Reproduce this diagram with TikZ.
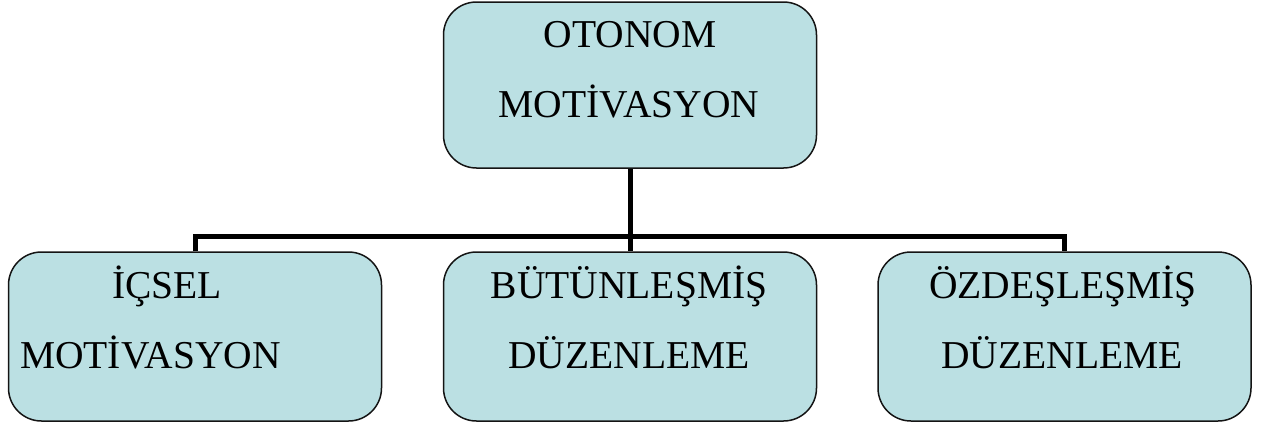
\documentclass[tikz,border=0pt]{standalone}
\usepackage{fontspec}
\setmainfont{Liberation Serif}
\definecolor{boxfill}{RGB}{187,224,227}
\definecolor{boxline}{RGB}{20,20,20}
\begin{document}
\begin{tikzpicture}[x=1pt,y=-1pt,
  box/.style={draw=boxline, line width=1.5pt, fill=boxfill, rounded corners=33pt,
    rectangle, inner sep=0pt, minimum width=373pt},
  label/.style={anchor=base, inner sep=0pt, font=\fontsize{39.5}{39.5}\selectfont},
  bus/.style={line width=5pt, line join=miter}]
\useasboundingbox (0,0) rectangle (1273,426);

% boxes
\node[box, minimum height=166pt] (top) at (630,85) {};
\node[box, minimum height=169pt] (left) at (195,336.5) {};
\node[box, minimum height=169pt] (mid)  at (630,336.5) {};
\node[box, minimum height=169pt] (right) at (1064.5,336.5) {};

% connectors
\coordinate (hub) at (630,236);
\draw[bus] (top.south) -- (mid.north);
\draw[bus] (left.north) -- (left.north |- hub) -- (right.north |- hub) -- (right.north);

% texts
\node[label] (t1) at (630,47) {OTONOM};
\node[label] (t2) at (629,117) {MOTİVASYON};
\node[label] (l1) at (167,298) {İÇSEL};
\node[label, anchor=base west] (l2) at (20,368) {MOTİVASYON};
\node[label] (m1) at (629,298) {BÜTÜNLEŞMİŞ};
\node[label] (m2) at (629,368) {DÜZENLEME};
\node[label] (r1) at (1063,298) {ÖZDEŞLEŞMİŞ};
\node[label] (r2) at (1062,368) {DÜZENLEME};
\end{tikzpicture}
\end{document}
